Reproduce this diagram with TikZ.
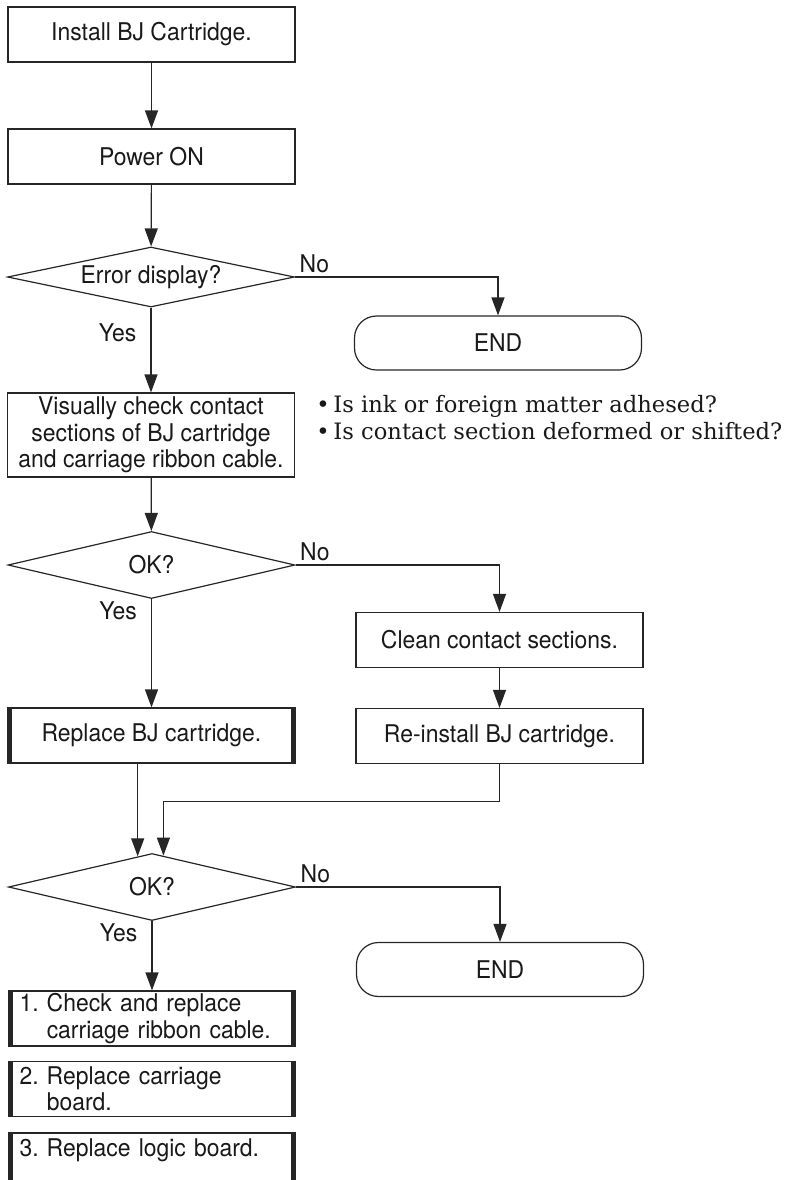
\documentclass[tikz,border=0pt]{standalone}
\usepackage{fontspec}
\setmainfont{TeX Gyre Heros}[FakeStretch=0.94]
\newfontfamily\notefont{DejaVu Serif}
\usetikzlibrary{shapes.geometric,arrows.meta}
\colorlet{inkline}{black!85}
\tikzset{
  stepbox/.style={draw=inkline,line width=.6pt,minimum width=143.5pt,minimum height=27.5pt,
    inner sep=0pt,align=center},
  endbox/.style={stepbox,rounded corners=11pt,minimum height=27pt},
  fixbox/.style={stepbox,text width=132.5pt,inner xsep=5.5pt,align=left},
  query/.style={draw=inkline,line width=.6pt,diamond,shape aspect=4.5,inner sep=0pt,
    minimum width=143.5pt,minimum height=33.5pt},
  flow/.style={draw=inkline,line width=.6pt,-{Triangle[length=9pt,width=6.5pt]}},
  yeslbl/.style={left,inner sep=0pt,xshift=-7pt},
  nolbl/.style={above right,inner sep=2pt}
}
\begin{document}
\begin{tikzpicture}[x=.5pt,y=-.5pt,font=\fontsize{12.2}{13.25}\selectfont,text=black!90]
  \useasboundingbox (0,0) rectangle (795,1180);
  \clip (0,0) rectangle (795,1180);
  % left column
  \node[stepbox] (install) at (151.5,34.5) {Install BJ Cartridge.};
  \node[stepbox] (power) at (151.5,156.5) {Power ON};
  \node[query,minimum height=30pt] (err) at (151,277) {Error display?};
  \node[stepbox,minimum height=42pt] (visual) at (151,435)
    {Visually check contact\\sections of BJ cartridge\\and carriage ribbon cable.};
  \node[query] (okA) at (151.5,565) {OK?};
  \node[stepbox] (replace) at (151.5,735.5) {Replace BJ cartridge.};
  \node[query] (okB) at (152,887) {OK?};
  \node[fixbox] (fix1) at (152,1018.5) {1.~Check and replace\\\phantom{1.~}carriage ribbon cable.};
  \node[fixbox] (fix2) at (152,1089) {2.~Replace carriage\\\phantom{2.~}board.};
  \node[fixbox] (fix3) at (152,1160.5) {3.~Replace logic board.\\\mbox{}};
  % right column
  \node[endbox] (end1) at (498,343) {END};
  \node[anchor=west,inner sep=0pt,align=left,font=\notefont\fontsize{11.3}{13.5}\selectfont]
    (hints) at (316,417.5) {•\,Is ink or foreign matter adhesed?\\•\,Is contact section deformed or shifted?};
  \node[stepbox] (clean) at (499.5,640) {Clean contact sections.};
  \node[stepbox] (reinstall) at (499.5,736) {Re-install BJ cartridge.};
  \node[endbox] (end2) at (500,969.5) {END};
  % heavy sides
  \foreach \b in {replace,fix1,fix2,fix3}
    \draw[inkline,line width=2.4pt] ([xshift=1.2pt]\b.north west) -- ([xshift=1.2pt]\b.south west)
      ([xshift=-1.2pt]\b.north east) -- ([xshift=-1.2pt]\b.south east);
  % connectors
  \draw[flow] (install) -- (power);
  \draw[flow] (power) -- (err);
  \draw[flow] (err.east) -| node[nolbl,pos=0]{No} (end1.north);
  \draw[flow] (err) -- node[yeslbl,pos=.3]{Yes} (visual);
  \draw[flow] (visual) -- (okA);
  \draw[flow] (okA.east) -| node[nolbl,pos=0]{No} (clean.north);
  \draw[flow] (okA) -- node[yeslbl,pos=.11]{Yes} (replace);
  \draw[flow] (clean) -- (reinstall);
  \draw[flow] (replace.south -| okB.115) -- (okB.115);
  \draw[flow] (reinstall.south) -- ++(0,37) -| (okB.70);
  \draw[flow] (okB.east) -| node[nolbl,pos=0]{No} (end2.north);
  \draw[flow] (okB) -- node[yeslbl,pos=.17]{Yes} (fix1);
\end{tikzpicture}
\end{document}
